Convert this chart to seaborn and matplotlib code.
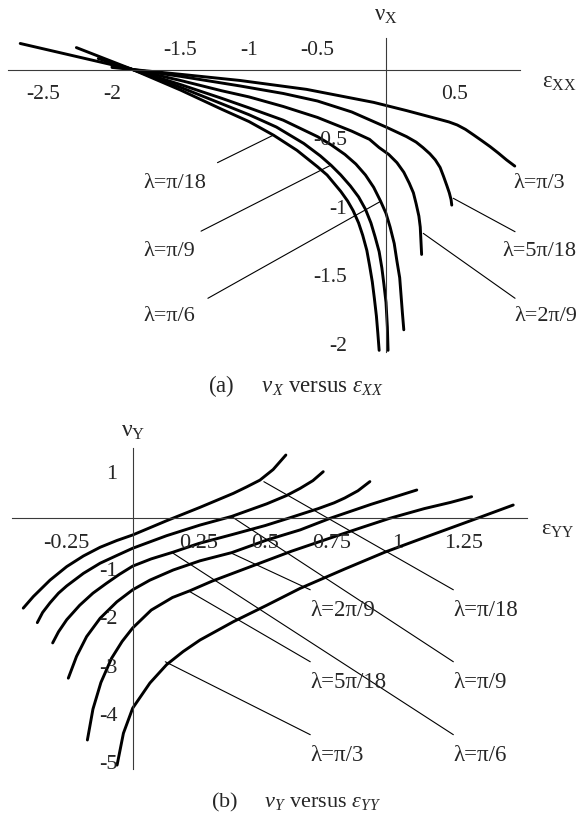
import matplotlib
matplotlib.use("Agg")
import matplotlib.pyplot as plt
import seaborn as sns
import numpy as np

sns.set_style("white")
plt.rcParams["font.family"] = ["Liberation Serif", "DejaVu Serif"]
plt.rcParams["mathtext.fontset"] = "custom"
plt.rcParams["mathtext.rm"] = "Liberation Serif"
plt.rcParams["mathtext.it"] = "Liberation Serif:italic"

# ---------------- data: panel (a)  nu_X versus eps_XX ----------------
lam_labels = ["λ=π/18", "λ=π/9", "λ=π/6", "λ=2π/9", "λ=5π/18", "λ=π/3"]

a_eps_pi18 = [-2.26, -1.85, -1.5, -1.2, -1.0, -0.82, -0.65, -0.50, -0.43, -0.38, -0.33, -0.28, -0.24,
              -0.20, -0.17, -0.14, -0.12, -0.10, -0.085, -0.07, -0.06, -0.05]
a_nu_pi18 = [0.16, 0.0, -0.15, -0.29, -0.38, -0.48, -0.59, -0.71, -0.77, -0.83, -0.89, -0.96, -1.03,
             -1.12, -1.21, -1.32, -1.43, -1.55, -1.67, -1.80, -1.92, -2.05]

a_eps_pi9 = [-2.10, -1.85, -1.5, -1.2, -1.0, -0.80, -0.60, -0.48, -0.40, -0.33, -0.26, -0.20, -0.15,
             -0.11, -0.08, -0.05, -0.03, -0.015, 0.0, 0.01, 0.015]
a_nu_pi9 = [0.08, 0.0, -0.13, -0.25, -0.33, -0.42, -0.54, -0.63, -0.70, -0.77, -0.85, -0.93, -1.02,
            -1.12, -1.22, -1.33, -1.45, -1.57, -1.70, -1.88, -2.05]

a_eps_pi6 = [-2.05, -1.85, -1.5, -1.2, -1.0, -0.75, -0.50, -0.40, -0.30, -0.22, -0.15, -0.09, -0.04,
             0.0, 0.03, 0.06, 0.08, 0.10, 0.11, 0.12, 0.13]
a_nu_pi6 = [0.055, 0.0, -0.11, -0.21, -0.28, -0.37, -0.49, -0.55, -0.62, -0.69, -0.77, -0.86, -0.96,
            -1.05, -1.15, -1.27, -1.40, -1.52, -1.65, -1.78, -1.90]

a_eps_2pi9 = [-2.67, -1.85, -1.5, -1.2, -1.0, -0.75, -0.50, -0.25, -0.12, -0.05, 0.02, 0.08, 0.13,
              0.17, 0.20, 0.22, 0.24, 0.25, 0.26]
a_nu_2pi9 = [0.19, 0.0, -0.08, -0.155, -0.20, -0.27, -0.35, -0.45, -0.51, -0.57, -0.62, -0.68, -0.75,
             -0.83, -0.90, -0.98, -1.07, -1.15, -1.35]

a_eps_5pi18 = [-2.0, -1.85, -1.5, -1.066, -0.75, -0.50, -0.25, 0.0, 0.15, 0.22, 0.27, 0.32, 0.36,
               0.395, 0.42, 0.445, 0.462, 0.475, 0.48]
a_nu_5pi18 = [0.025, 0.0, -0.05, -0.12, -0.175, -0.23, -0.31, -0.42, -0.49, -0.53, -0.57, -0.615, -0.66,
              -0.715, -0.78, -0.85, -0.90, -0.95, -0.99]

a_eps_pi3 = [-2.0, -1.85, -1.5, -1.066, -0.58, -0.09, 0.15, 0.39, 0.46, 0.52, 0.58, 0.64, 0.70, 0.76,
             0.82, 0.88, 0.94]
a_nu_pi3 = [0.015, 0.0, -0.035, -0.08, -0.145, -0.24, -0.30, -0.364, -0.383, -0.405, -0.437, -0.478,
            -0.52, -0.563, -0.61, -0.66, -0.705]

a_xticks = [-2.5, -2, -1.5, -1, -0.5, 0.5]
a_xticklabels = ["-2.5", "-2", "-1.5", "-1", "-0.5", "0.5"]
a_yticks = [-0.5, -1, -1.5, -2]
a_yticklabels = ["-0.5", "-1", "-1.5", "-2"]

# ---------------- data: panel (b)  nu_Y versus eps_YY ----------------
b_eps_pi18 = [-0.413, -0.375, -0.312, -0.249, -0.186, -0.123, -0.06, 0.0, 0.128, 0.254, 0.38, 0.43,
              0.48, 0.53, 0.578]
b_nu_pi18 = [-1.86, -1.62, -1.28, -1.00, -0.78, -0.60, -0.46, -0.345, -0.05, 0.227, 0.517, 0.65,
             0.79, 1.01, 1.31]

b_eps_pi9 = [-0.36, -0.34, -0.312, -0.28, -0.249, -0.186, -0.123, -0.06, 0.0, 0.128, 0.254, 0.374,
             0.506, 0.58, 0.632, 0.68, 0.719]
b_nu_pi9 = [-2.16, -1.95, -1.75, -1.55, -1.40, -1.14, -0.93, -0.77, -0.62, -0.36, -0.14, 0.04,
            0.30, 0.47, 0.62, 0.78, 0.965]

b_eps_pi6 = [-0.302, -0.28, -0.249, -0.20, -0.15, -0.10, -0.05, 0.0, 0.07, 0.153, 0.25, 0.38, 0.50,
             0.587, 0.70, 0.76, 0.80, 0.85, 0.895]
b_nu_pi6 = [-2.58, -2.35, -2.10, -1.80, -1.55, -1.35, -1.16, -0.99, -0.84, -0.70, -0.52, -0.33, -0.15,
            0.0, 0.20, 0.32, 0.42, 0.57, 0.76]

b_eps_2pi9 = [-0.243, -0.212, -0.174, -0.123, -0.06, 0.0, 0.065, 0.153, 0.254, 0.374, 0.506, 0.632,
              0.745, 0.90, 1.072]
b_nu_2pi9 = [-3.31, -2.86, -2.45, -2.07, -1.73, -1.48, -1.28, -1.07, -0.88, -0.71, -0.45, -0.24,
             0.0, 0.29, 0.586]

b_eps_5pi18 = [-0.171, -0.15, -0.12, -0.08, -0.04, 0.0, 0.07, 0.15, 0.216, 0.30, 0.45, 0.60, 0.75,
               0.87, 0.97, 1.10, 1.20, 1.279]
b_nu_5pi18 = [-4.59, -3.95, -3.40, -2.90, -2.55, -2.27, -1.90, -1.64, -1.50, -1.30, -0.99, -0.68, -0.40,
              -0.18, 0.0, 0.20, 0.33, 0.447]

b_eps_pi3 = [-0.059, -0.035, 0.0, 0.065, 0.128, 0.19, 0.254, 0.38, 0.506, 0.632, 0.80, 0.952, 1.10,
             1.30, 1.436]
b_nu_pi3 = [-5.11, -4.45, -3.93, -3.41, -3.03, -2.76, -2.52, -2.14, -1.80, -1.45, -1.05, -0.70, -0.40,
            0.0, 0.275]

b_xticks = [-0.25, 0.25, 0.5, 0.75, 1, 1.25]
b_xticklabels = ["-0.25", "0.25", "0.5", "0.75", "1", "1.25"]
b_yticks = [1, -1, -2, -3, -4, -5]
b_yticklabels = ["1", "-1", "-2", "-3", "-4", "-5"]

# ---------------- figure ----------------
W, H = 580, 818
fig = plt.figure(figsize=(W / 100, H / 100), dpi=100)
FS_A = 15.5
FS_B = 16
FS_LAM = 16
CURVE_LW = 2.1
LEADER_LW = 0.8
AXIS_COLOR = "#3a3a3a"


def make_axes(origin_px, scale_px, xlim, ylim):
    ox, oy = origin_px
    sx, sy = scale_px
    left = ox + xlim[0] * sx
    right = ox + xlim[1] * sx
    top = oy - ylim[1] * sy
    bottom = oy - ylim[0] * sy
    ax = fig.add_axes([left / W, 1 - bottom / H, (right - left) / W, (bottom - top) / H])
    ax.set_xlim(xlim)
    ax.set_ylim(ylim)
    ax.set_facecolor("none")
    return ax


def style_axes(ax, xbounds, ybounds, xminor, yminor):
    for s in ("top", "right"):
        ax.spines[s].set_visible(False)
    for s in ("left", "bottom"):
        ax.spines[s].set_position(("data", 0))
        ax.spines[s].set_color(AXIS_COLOR)
        ax.spines[s].set_linewidth(0.8)
    ax.spines["bottom"].set_bounds(*xbounds)
    ax.spines["left"].set_bounds(*ybounds)
    ax.set_xticks(xminor, minor=True)
    ax.set_yticks(yminor, minor=True)
    ax.tick_params(which="both", direction="in", color=AXIS_COLOR,
                   labelbottom=False, labelleft=False)
    ax.tick_params(which="major", length=4, width=0.8)
    ax.tick_params(which="minor", length=2, width=0.6)
    ax.set_xlabel("")
    ax.set_ylabel("")


def draw_curves(ax, curves):
    for xs, ys in curves:
        sns.lineplot(x=xs, y=ys, sort=False, estimator=None, color="black",
                     linewidth=CURVE_LW, ax=ax)


# ---------- panel (a) ----------
axa = make_axes((386, 69.5), (137, 137), (-2.82, 1.0), (-2.12, 0.45))
draw_curves(axa, [(a_eps_pi18, a_nu_pi18), (a_eps_pi9, a_nu_pi9), (a_eps_pi6, a_nu_pi6),
                  (a_eps_2pi9, a_nu_2pi9), (a_eps_5pi18, a_nu_5pi18), (a_eps_pi3, a_nu_pi3)])
axa.set_xticks(a_xticks)
axa.set_yticks(a_yticks)
style_axes(axa, (-2.76, 0.98), (-2.06, 0.23),
           np.round(np.arange(-2.7, 0.95, 0.1), 2), np.round(np.arange(-2.0, 0.21, 0.1), 2))

above = {-1.5, -1, -0.5}
for v, t in zip(a_xticks, a_xticklabels):
    dy = 14 if v in above else -18
    axa.annotate(t, (v, 0), xytext=(0, dy), textcoords="offset points",
                 ha="center", va="center", fontsize=FS_A)
for v, t in zip(a_yticks, a_yticklabels):
    axa.annotate(t, (0, v), xytext=(-28, -2), textcoords="offset points",
                 ha="right", va="center", fontsize=FS_A)

axa.annotate(r"$\mathrm{\nu}_{\mathrm{X}}$", (0, 0.23), xytext=(0, 16), textcoords="offset points",
             ha="center", va="center", fontsize=FS_A + 1)
axa.annotate(r"$\mathrm{\varepsilon}_{\mathrm{XX}}$", (0.98, 0), xytext=(28, -9), textcoords="offset points",
             ha="center", va="center", fontsize=FS_A + 1)

# leader lines and labels
a_leaders = [((-1.23, -0.68), (-0.82, -0.478)),
             ((-1.35, -1.18), (-0.40, -0.697)),
             ((-1.30, -1.67), (-0.044, -0.965)),
             ((0.272, -1.196), (0.942, -1.67)),
             ((0.491, -0.94), (0.942, -1.184))]
for (x0, y0), (x1, y1) in a_leaders:
    axa.plot([x0, x1], [y0, y1], color="black", lw=LEADER_LW)

a_label_pos = {"λ=π/18": (-1.77, -0.83, "left"), "λ=π/9": (-1.77, -1.33, "left"),
               "λ=π/6": (-1.77, -1.80, "left"), "λ=π/3": (1.117, -0.83, "center"),
               "λ=5π/18": (1.117, -1.33, "center"), "λ=2π/9": (1.165, -1.80, "center")}
for lab in lam_labels:
    x, y, ha = a_label_pos[lab]
    axa.text(x, y, lab, ha=ha, va="center", fontsize=FS_LAM, clip_on=False)

fig.text(296 / W, 1 - 386 / H, r"(a)     $\nu_X$ versus $\varepsilon_{XX}$",
         ha="center", va="center", fontsize=16.5)

# ---------- panel (b) ----------
axb = make_axes((132.7, 518.3), (265, 48.3), (-0.48, 1.52), (-5.3, 1.9))
draw_curves(axb, [(b_eps_pi18, b_nu_pi18), (b_eps_pi9, b_nu_pi9), (b_eps_pi6, b_nu_pi6),
                  (b_eps_2pi9, b_nu_2pi9), (b_eps_5pi18, b_nu_5pi18), (b_eps_pi3, b_nu_pi3)])
axb.set_xticks(b_xticks)
axb.set_yticks(b_yticks)
style_axes(axb, (-0.457, 1.487), (-5.2, 1.45),
           np.round(np.arange(-0.45, 1.48, 0.05), 3), np.round(np.arange(-5.0, 1.41, 0.2), 2))

for v, t in zip(b_xticks, b_xticklabels):
    axb.annotate(t, (v, 0), xytext=(0, -18), textcoords="offset points",
                 ha="center", va="center", fontsize=FS_B)
for v, t in zip(b_yticks, b_yticklabels):
    axb.annotate(t, (0, v), xytext=(-11, -3.5), textcoords="offset points",
                 ha="right", va="center", fontsize=FS_B)

axb.annotate(r"$\mathrm{\nu}_{\mathrm{Y}}$", (0, 1.45), xytext=(0, 12), textcoords="offset points",
             ha="center", va="center", fontsize=FS_B + 1)
axb.annotate(r"$\mathrm{\varepsilon}_{\mathrm{YY}}$", (1.487, 0), xytext=(22, -8), textcoords="offset points",
             ha="center", va="center", fontsize=FS_B)

b_leaders = [((0.495, 0.758), (1.21, -1.48)),
             ((0.374, 0.033), (1.21, -2.97)),
             ((0.153, -0.725), (1.21, -4.48)),
             ((0.374, -0.725), (0.670, -1.48)),
             ((0.216, -1.52), (0.670, -2.97)),
             ((0.123, -2.97), (0.670, -4.48))]
for ((x0, y0), (x1, y1)), lab in zip(b_leaders, lam_labels):
    axb.plot([x0, x1], [y0, y1], color="black", lw=LEADER_LW)
    axb.annotate(lab, (x1, y1), xytext=(0, -15), textcoords="offset points",
                 ha="left", va="center", fontsize=FS_LAM + 0.5)

fig.text(296 / W, 1 - 802 / H, r"(b)     $\nu_Y$ versus $\varepsilon_{YY}$",
         ha="center", va="center", fontsize=16)

fig.savefig("out.png", dpi=100, facecolor="white")
